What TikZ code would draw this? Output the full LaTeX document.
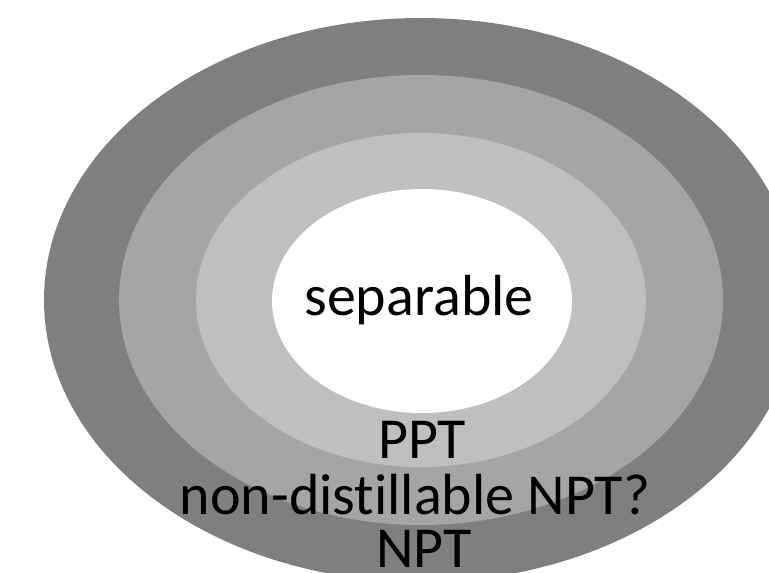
\documentclass[tikz,border=0pt]{standalone}
\usepackage{fontspec}
\setmainfont[Ligatures={NoCommon}]{Carlito}
\definecolor{ringdark}{RGB}{127,127,127}
\definecolor{ringmid}{RGB}{165,165,165}
\definecolor{ringlight}{RGB}{191,191,191}
\begin{document}
\begin{tikzpicture}[x=1bp,y=-1bp,
  lbl/.style={anchor=base,inner sep=0pt,text=black,text depth=0pt,font=\fontsize{58bp}{58bp}\selectfont}]
\useasboundingbox (0,0) rectangle (769,573);
\begin{scope}
\clip (0,0) rectangle (769,573);
\coordinate (c) at (421,300);
\fill[ringdark] (c) ellipse [x radius=377, y radius=282];
\fill[ringmid] (c) ellipse [x radius=302, y radius=225];
\fill[ringlight] (c) ellipse [x radius=225, y radius=167];
\fill[white] (422,301) ellipse [x radius=150, y radius=112];
\end{scope}
\node[lbl] (sep) at (419,315) {separable};
\node[lbl] (ppt) at (422,458) {PPT};
\node[lbl] (nd) at (415,514) {non-distillable NPT?};
\node[lbl] (npt) at (424,567) {NPT};
\end{tikzpicture}
\end{document}
